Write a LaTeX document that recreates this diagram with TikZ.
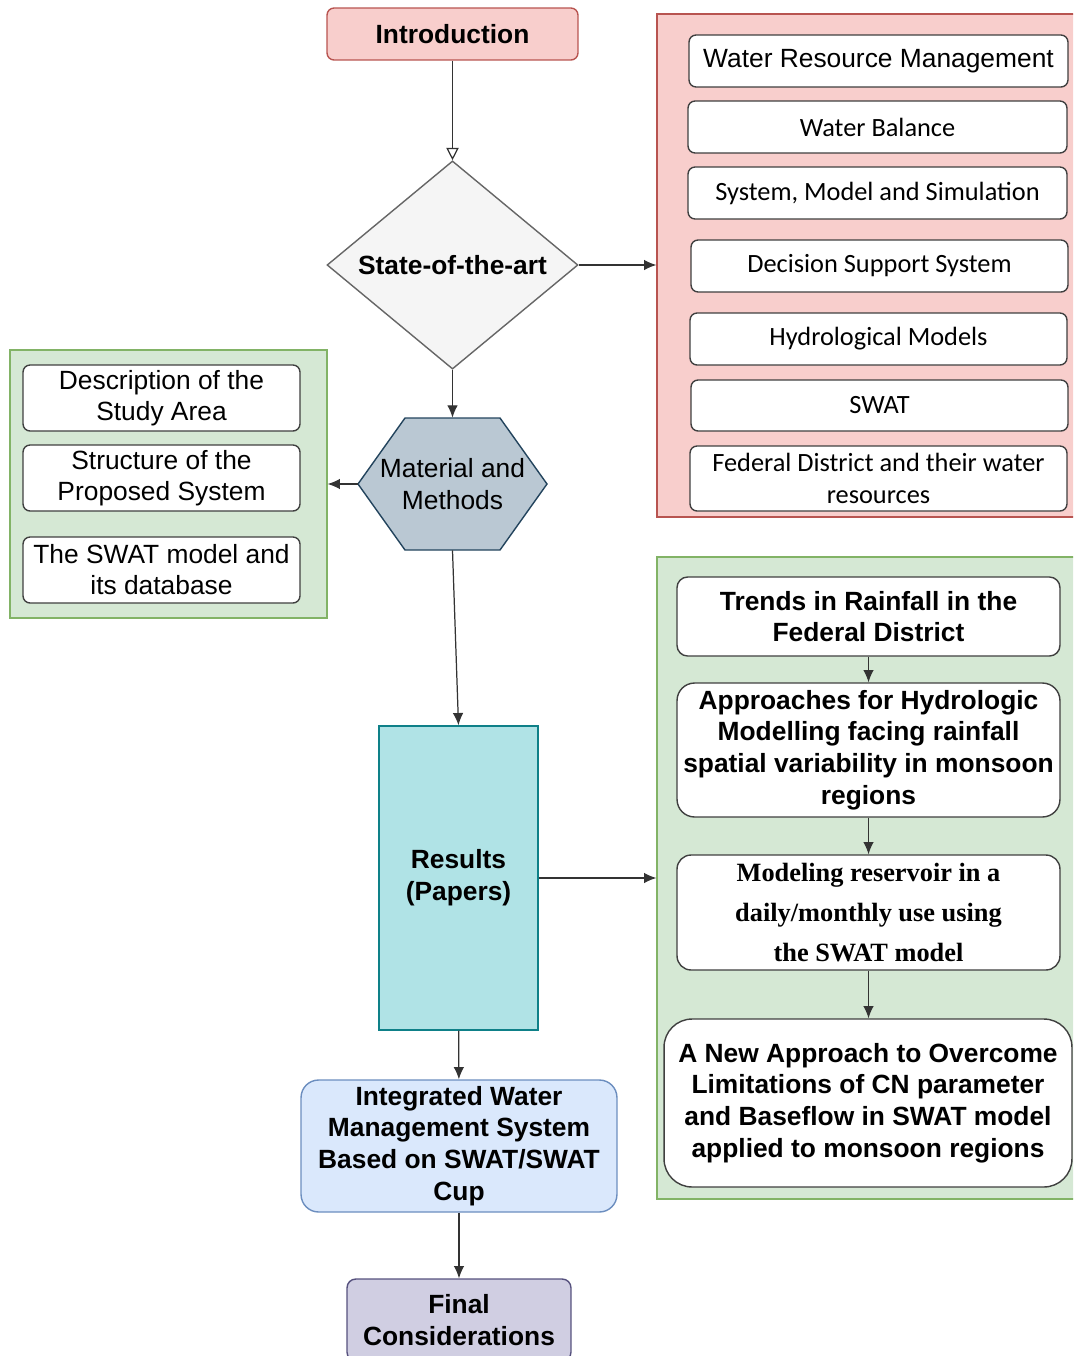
\documentclass[tikz,border=0pt]{standalone}
\usepackage{fontspec}
\setmainfont{Liberation Sans}
\newfontfamily\calibrifont{Carlito}
\newfontfamily\timesfont{Liberation Serif}
\usetikzlibrary{shapes.geometric,arrows.meta,positioning}

\definecolor{pinkfill}{HTML}{F8CECC}
\definecolor{pinkline}{HTML}{B85450}
\definecolor{greyfill}{HTML}{F5F5F5}
\definecolor{greyline}{HTML}{666666}
\definecolor{hexfill}{HTML}{BAC8D3}
\definecolor{hexline}{HTML}{23445D}
\definecolor{greenfill}{HTML}{D5E8D4}
\definecolor{greenline}{HTML}{82B366}
\definecolor{tealfill}{HTML}{B0E3E6}
\definecolor{tealline}{HTML}{0E8088}
\definecolor{bluefill}{HTML}{DAE8FC}
\definecolor{blueline}{HTML}{6C8EBF}
\definecolor{purplefill}{HTML}{D0CEE2}
\definecolor{purpleline}{HTML}{56517E}

\tikzset{
  txt/.style={font=\fontsize{15}{18.1}\selectfont, align=center, inner sep=2pt},
  box/.style={txt, draw=black!75, fill=white, rounded corners=4pt, line width=0.8pt},
  panel/.style={draw=#1line, fill=#1fill, line width=0.8pt},
  arr/.style={-{Latex[length=7pt,width=6pt]}, line width=0.7pt, black!80},
}

\begin{document}
\begin{tikzpicture}[x=0.02cm, y=-0.02cm]
  \useasboundingbox (0,0) rectangle (1073,1356);
  \clip (0,0) rectangle (1073,1356);

  % panels
  \node[panel=pink, minimum width=8.46cm, minimum height=10.06cm] (redp) at (868.5,265.5) {};
  \node[panel=green, minimum width=6.34cm, minimum height=5.36cm] (lefp) at (168.5,484) {};
  \node[panel=green, minimum width=8.46cm, minimum height=12.84cm] (rigp) at (868.5,878) {};

  % main column
  \node[txt, font=\fontsize{15}{18.1}\selectfont\bfseries, draw=pinkline, fill=pinkfill, rounded corners=4pt,
        line width=0.8pt, minimum width=5.02cm, minimum height=1.04cm] (intro) at (452.5,34) {Introduction};
  \node[txt, diamond, font=\fontsize{15}{18.1}\selectfont\bfseries, draw=greyline, fill=greyfill, inner sep=0pt,
        line width=0.8pt, minimum width=5.02cm, minimum height=3.96cm] (sota) at (452.5,265) {State-of-the-art};
  \draw[fill=hexfill, draw=hexline, line width=0.8pt]
    (358,484) -- (405,418) -- (500,418) -- (547,484) -- (500,550) -- (405,550) -- cycle;
  \node[txt, minimum width=3.78cm, minimum height=2.64cm] (mm) at (452.5,484) {Material and\\Methods};
  \node[txt, font=\fontsize{15}{18.1}\selectfont\bfseries, draw=tealline, fill=tealfill, line width=0.8pt,
        minimum width=3.18cm, minimum height=6.08cm] (res) at (458.5,878) {Results\\(Papers)};
  \node[txt, font=\fontsize{15}{18.1}\selectfont\bfseries, draw=blueline, fill=bluefill, rounded corners=10pt,
        line width=0.8pt, minimum width=6.32cm, minimum height=2.64cm] (iwms) at (459,1146)
        {Integrated Water\\Management System\\Based on SWAT/SWAT\\Cup};
  \node[txt, font=\fontsize{15}{18.1}\selectfont\bfseries, draw=purpleline, fill=purplefill, rounded corners=5pt,
        line width=0.8pt, minimum width=4.48cm, minimum height=1.64cm] (final) at (459,1320) {Final\\Considerations};

  % state of the art topics
  \node[box, minimum width=7.58cm, minimum height=1.04cm] (wrm) at (878.5,61) {Water Resource Management};
  \node[box, font=\calibrifont\fontsize{15}{18.1}\selectfont, minimum width=7.58cm, minimum height=1.04cm] (wb) at (877.5,127) {Water Balance};
  \node[box, font=\calibrifont\fontsize{15}{18.1}\selectfont, minimum width=7.58cm, minimum height=1.04cm] (sms) at (877.5,193) {System, Model and Simulation};
  \node[box, font=\calibrifont\fontsize{15}{18.1}\selectfont, minimum width=7.54cm, minimum height=1.04cm] (dss) at (879.5,266) {Decision Support System};
  \node[box, font=\calibrifont\fontsize{15}{18.1}\selectfont, minimum width=7.54cm, minimum height=1.04cm] (hydm) at (878.5,339) {Hydrological Models};
  \node[box, font=\calibrifont\fontsize{15}{18.1}\selectfont, minimum width=7.54cm, minimum height=1.02cm] (swat) at (879.5,405.5) {SWAT};
  \node[box, font=\calibrifont\fontsize{15}{18.1}\selectfont, minimum width=7.54cm, minimum height=1.30cm] (fedd) at (878.5,478.5) {Federal District and their water\\resources};

  % material and methods topics
  \node[box, font=\fontsize{15}{17.6}\selectfont, minimum width=5.54cm, minimum height=1.32cm] (desc) at (161.5,398) {Description of the\\Study Area};
  \node[box, font=\fontsize{15}{17.6}\selectfont, minimum width=5.54cm, minimum height=1.32cm] (struc) at (161.5,478) {Structure of the\\Proposed System};
  \node[box, font=\fontsize{15}{17.6}\selectfont, minimum width=5.54cm, minimum height=1.32cm] (swdb) at (161.5,570) {The SWAT model and\\its database};

  % papers
  \node[box, font=\fontsize{15}{18.1}\selectfont\bfseries, rounded corners=6pt, minimum width=7.66cm, minimum height=1.58cm] (p1) at (868.5,616.5) {Trends in Rainfall in the\\Federal District};
  \node[box, font=\fontsize{15}{18.1}\selectfont\bfseries, rounded corners=10pt, minimum width=7.66cm, minimum height=2.68cm] (p2) at (868.5,750) {Approaches for Hydrologic\\Modelling facing rainfall\\spatial variability in monsoon\\regions};
  \node[box, font=\timesfont\bfseries\fontsize{15}{22.7}\selectfont, rounded corners=8pt, minimum width=7.66cm, minimum height=2.30cm] (p3) at (868.5,912.5) {Modeling reservoir in a\\daily/monthly use using\\the SWAT model};
  \node[box, font=\fontsize{15}{18.1}\selectfont\bfseries, rounded corners=16pt, minimum width=8.16cm, minimum height=3.36cm] (p4) at (868,1103) {A New Approach to Overcome\\Limitations of CN parameter\\and Baseflow in SWAT model\\applied to monsoon regions};

  % connectors
  \draw[-{Triangle[open,length=7pt,width=7pt]}, line width=0.7pt, black!80] (intro) -- (sota);
  \draw[arr] (sota.east) -- (sota.east -| redp.west);
  \draw[arr] (sota.south) -- (mm.north);
  \draw[arr] (mm.west) -- (mm.west -| lefp.east);
  \draw[arr] (mm.south) -- (res.north);
  \draw[arr] (res.east) -- (res.east -| rigp.west);
  \draw[arr] (res) -- (iwms);
  \draw[arr] (iwms) -- (final);
  \draw[arr] (p1) -- (p2);
  \draw[arr] (p2) -- (p3);
  \draw[arr] (p3.south) -- (p3.south |- p4.north);
\end{tikzpicture}
\end{document}
